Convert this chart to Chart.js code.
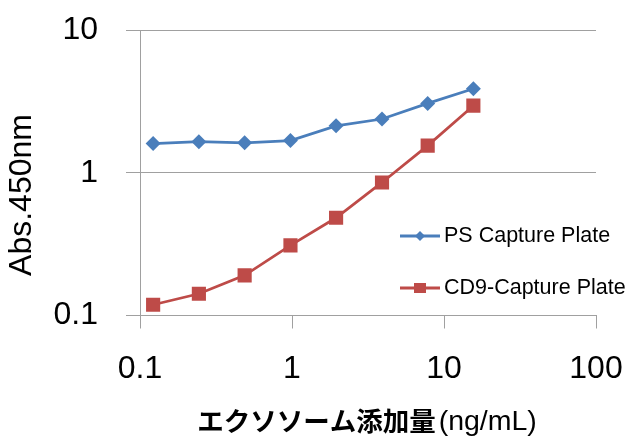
<!DOCTYPE html>
<html>
<head>
<meta charset="utf-8">
<script src="https://cdn.jsdelivr.net/npm/chart.js@4/dist/chart.umd.min.js"></script>
<style>
  html, body { margin: 0; padding: 0; background: #fff; }
  #wrap { width: 630px; height: 439px; }
</style>
</head>
<body>
<div id="wrap"><canvas id="absChart"></canvas></div>
<script>
// exosome dose (ng/mL), halving series
var doses = [0.122, 0.244, 0.488, 0.977, 1.95, 3.91, 7.81, 15.6];
var psValues = [1.60, 1.65, 1.62, 1.68, 2.13, 2.38, 3.06, 3.88];
var cd9Values = [0.119, 0.142, 0.191, 0.31, 0.484, 0.855, 1.55, 2.95];
var xTicks = [0.1, 1, 10, 100];
var yTicks = [0.1, 1, 10];
var seriesNames = ['PS Capture Plate', 'CD9-Capture Plate'];

var BLUE = '#4a7ebb';
var RED = '#be4b48';
var GRID = '#a0a0a0';

function points(ys) {
    return doses.map(function(d, i) { return { x: d, y: ys[i] }; });
}

// axis titles + legend drawn by hand so they sit where the original has them
var decorations = {
    id: 'decorations',
    afterDraw: function(chart) {
        var ctx = chart.ctx;
        ctx.save();
        ctx.fillStyle = '#000';

        // y title
        ctx.save();
        ctx.translate(22, 195);
        ctx.rotate(-Math.PI / 2);
        ctx.font = '32px "Liberation Sans", Arial, sans-serif';
        ctx.textAlign = 'center';
        ctx.textBaseline = 'middle';
        ctx.fillText('Abs.450nm', 0, 0);
        ctx.restore();

        // x title: bold japanese + regular unit
        var jp = 'エクソソーム添加量';
        var unit = '(ng/mL)';
        var jpFont = 'bold 26.5px "Noto Sans CJK JP", sans-serif';
        var unitFont = '28.5px "Liberation Sans", Arial, sans-serif';
        ctx.font = jpFont;
        var w1 = ctx.measureText(jp).width;
        ctx.font = unitFont;
        var w2 = ctx.measureText(unit).width;
        var x0 = 367 - (w1 + w2 + 3) / 2;
        ctx.textBaseline = 'middle';
        ctx.textAlign = 'left';
        ctx.font = jpFont;
        ctx.fillText(jp, x0, 421);
        ctx.font = unitFont;
        ctx.fillText(unit, x0 + w1 + 3, 422);

        // legend
        var rows = [236, 288];
        chart.data.datasets.forEach(function(ds, i) {
            var y = rows[i];
            ctx.strokeStyle = ds.borderColor;
            ctx.lineWidth = 3;
            ctx.beginPath();
            ctx.moveTo(400, y);
            ctx.lineTo(440, y);
            ctx.stroke();
            ctx.fillStyle = ds.backgroundColor;
            if (ds.pointStyle === 'rectRot') {
                ctx.beginPath();
                ctx.moveTo(420, y - 5);
                ctx.lineTo(425, y);
                ctx.lineTo(420, y + 5);
                ctx.lineTo(415, y);
                ctx.closePath();
                ctx.fill();
            } else {
                ctx.fillRect(414, y - 5, 12, 10);
            }
            ctx.fillStyle = '#000';
            ctx.font = '21.5px "Liberation Sans", Arial, sans-serif';
            ctx.textAlign = 'left';
            ctx.textBaseline = 'middle';
            ctx.fillText(ds.label, 444, y);
        });
        ctx.restore();
    }
};

function noScalePadding(scale) {
    scale.paddingTop = 0;
    scale.paddingBottom = 0;
    scale.paddingLeft = 0;
    scale.paddingRight = 0;
}

var ctx1 = document.getElementById('absChart').getContext('2d');
var absChart = new Chart(ctx1, {
    type: 'scatter',
    data: {
        datasets: [{
            label: seriesNames[0],
            data: points(psValues),
            showLine: true,
            borderColor: BLUE,
            backgroundColor: BLUE,
            borderWidth: 2.75,
            pointStyle: 'rectRot',
            pointRadius: 7.5,
            pointHoverRadius: 7.5,
            pointBorderWidth: 0
        }, {
            label: seriesNames[1],
            data: points(cd9Values),
            showLine: true,
            borderColor: RED,
            backgroundColor: RED,
            borderWidth: 2.75,
            pointStyle: 'rect',
            pointRadius: 10,
            pointHoverRadius: 10,
            pointBorderWidth: 0
        }]
    },
    options: {
        responsive: true,
        maintainAspectRatio: false,
        animation: false,
        layout: { padding: { top: 30, right: 34, left: 0, bottom: 0 } },
        plugins: {
            legend: { display: false },
            tooltip: { enabled: false }
        },
        scales: {
            x: {
                type: 'logarithmic',
                min: 0.1,
                max: 100,
                afterBuildTicks: function(scale) {
                    scale.ticks = xTicks.map(function(v) { return { value: v }; });
                },
                afterFit: function(scale) {
                    scale.height = 123.5;
                    noScalePadding(scale);
                },
                grid: {
                    drawOnChartArea: false,
                    drawTicks: true,
                    tickLength: 13,
                    color: GRID,
                    lineWidth: 1
                },
                border: { display: true, color: GRID, width: 1 },
                ticks: {
                    autoSkip: false,
                    maxRotation: 0,
                    padding: 21,
                    color: '#000',
                    font: { family: '"Liberation Sans", Arial, sans-serif', size: 32 },
                    callback: function(v) { return String(v); }
                }
            },
            y: {
                type: 'logarithmic',
                min: 0.1,
                max: 10,
                afterBuildTicks: function(scale) {
                    scale.ticks = yTicks.map(function(v) { return { value: v }; });
                },
                afterFit: function(scale) {
                    scale.width = 140;
                    noScalePadding(scale);
                },
                grid: {
                    drawOnChartArea: true,
                    drawTicks: true,
                    tickLength: 14,
                    color: GRID,
                    lineWidth: 1
                },
                border: { display: true, color: GRID, width: 1 },
                ticks: {
                    autoSkip: false,
                    padding: 28,
                    color: '#000',
                    font: { family: '"Liberation Sans", Arial, sans-serif', size: 32 },
                    callback: function(v) { return String(v); }
                }
            }
        }
    },
    plugins: [decorations]
});
</script>
</body>
</html>
